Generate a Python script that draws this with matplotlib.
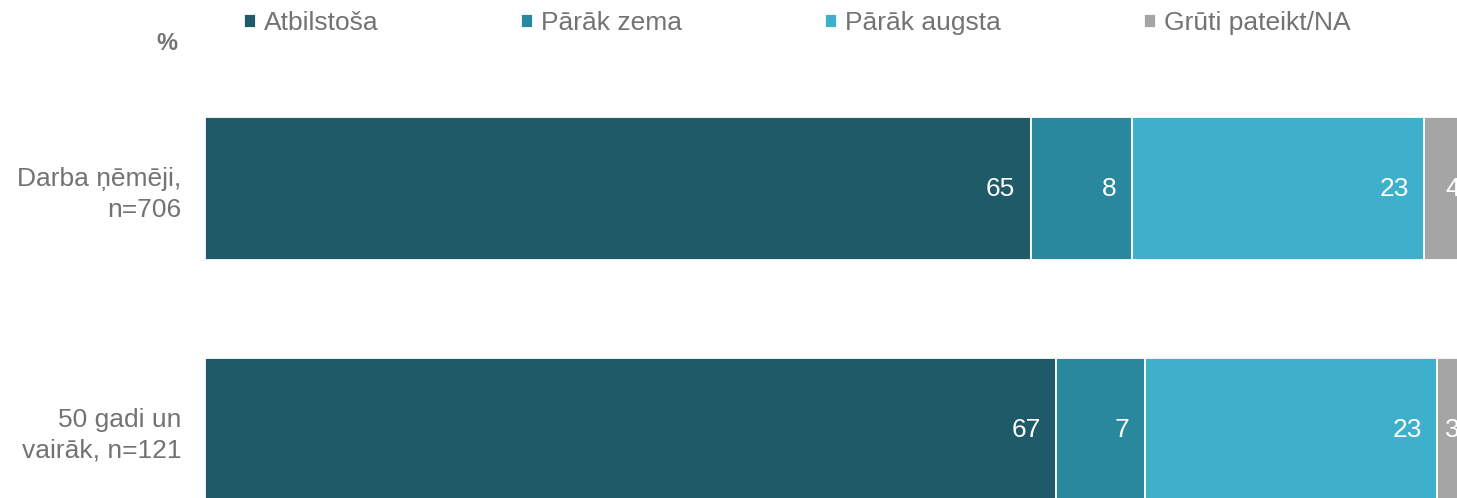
import matplotlib.pyplot as plt
import numpy as np

plt.rcParams['font.family'] = ['Liberation Sans', 'DejaVu Sans']

groups = ['Darba ņēmēji,\nn=706', '50 gadi un\nvairāk, n=121']
series = ['Atbilstoša', 'Pārāk zema', 'Pārāk augsta', 'Grūti pateikt/NA']
values = np.array([
    [65, 8, 23, 4],
    [67, 7, 23, 3],
])
colors = ['#1F5A69', '#2A889E', '#3EB0CC', '#A5A5A5']
text_gray = '#737373'

W, H = 1457, 498
fig = plt.figure(figsize=(W / 100, H / 100), dpi=100)
# axes runs past the right edge, as in the original crop
ax = fig.add_axes([205 / W, 0, 1270 / W, (H - 70) / H])

y = np.arange(len(groups))
left = np.zeros(len(groups))
for i, name in enumerate(series):
    ax.barh(y, values[:, i], left=left, height=0.593, color=colors[i],
            edgecolor='white', linewidth=1.3, label=name)
    for j, v in enumerate(values[:, i]):
        ax.annotate(str(v), xy=(left[j] + v, y[j]), xytext=(-11, 0),
                    textcoords='offset points', ha='right', va='center',
                    color='white', fontsize=19)
    left += values[:, i]

ax.set_xlim(0, 100)
ax.set_ylim(1 + (H - 429.5) / 241, -(188.5 - 70) / 241)
ax.set_yticks(y)
ax.set_yticklabels(groups, fontsize=19, color=text_gray)
for lbl in ax.get_yticklabels():
    lbl.set_linespacing(1.35)
ax.tick_params(axis='y', length=0, pad=17)
ax.tick_params(axis='x', bottom=False, labelbottom=False)
for s in ax.spines.values():
    s.set_visible(False)

fig.text(167 / W, 1 - 43 / H, '%', ha='center', va='center', fontsize=17,
         fontweight='bold', color=text_gray)

leg = fig.legend(loc='center left', bbox_to_anchor=(244 / W, 1 - 23 / H),
                 ncol=4, frameon=False, fontsize=19, borderpad=0,
                 borderaxespad=0, handlelength=0.45, handleheight=0.45,
                 handletextpad=0.3, columnspacing=5.42)
for t in leg.get_texts():
    t.set_color(text_gray)

fig.savefig('out.png', dpi=100)
